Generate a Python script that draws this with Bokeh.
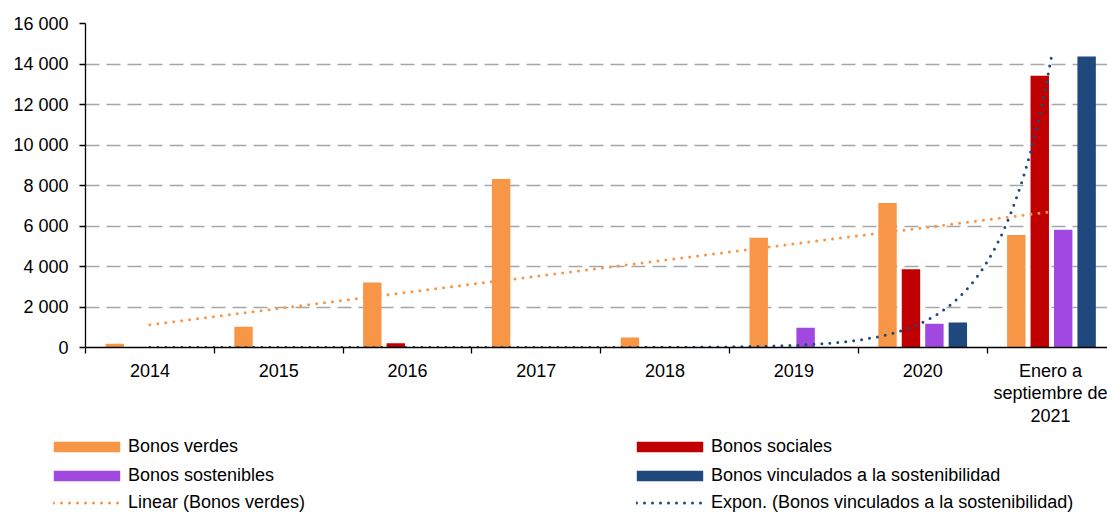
import numpy as np
from bokeh.plotting import figure
from bokeh.layouts import column
from bokeh.models import Range1d, FixedTicker, Legend, LegendItem
from bokeh.embed import file_html
from bokeh.resources import INLINE

# ---------------- data ----------------
categories = ["2014", "2015", "2016", "2017", "2018", "2019", "2020",
              "Enero a\nseptiembre de\n2021"]
bonos_verdes = [180, 1030, 3210, 8320, 500, 5420, 7130, 5560]
bonos_sociales = [0, 0, 210, 0, 0, 0, 3870, 13420]
bonos_sostenibles = [0, 0, 0, 0, 0, 980, 1170, 5810]
bonos_vinculados = [0, 0, 0, 0, 0, 0, 1240, 14370]
y_ticks = [0, 2000, 4000, 6000, 8000, 10000, 12000, 14000, 16000]
y_tick_labels = ["0", "2 000", "4 000", "6 000", "8 000", "10 000",
                 "12 000", "14 000", "16 000"]
series_names = ["Bonos verdes", "Bonos sociales", "Bonos sostenibles",
                "Bonos vinculados a la sostenibilidad"]
trend_names = ["Linear (Bonos verdes)",
               "Expon. (Bonos vinculados a la sostenibilidad)"]

ORANGE = "#F79646"
RED = "#C00000"
PURPLE = "#A048E0"
BLUE = "#1F497D"
FONT = "Liberation Sans"
FS = "18px"

n = len(categories)
idx = np.arange(n)
centers = idx + 0.5
step = 0.182
bw = 0.143

p = figure(width=1107, height=430,
           x_range=Range1d(0, 7.935), y_range=Range1d(0, 16000),
           output_backend="svg", toolbar_location=None,
           min_border_left=85, min_border_right=0,
           min_border_top=23, min_border_bottom=83)
p.outline_line_color = None
p.background_fill_color = "white"

# grid
p.xgrid.visible = False
p.ygrid.ticker = FixedTicker(ticks=y_ticks)
p.ygrid.grid_line_color = "#a6a6a6"
p.ygrid.grid_line_width = 1.6
p.ygrid.grid_line_dash = "14 7"

# bars
p.vbar(x=centers - 1.5 * step, top=bonos_verdes, width=bw,
       fill_color=ORANGE, line_color=None)
p.vbar(x=centers - 0.5 * step, top=bonos_sociales, width=bw,
       fill_color=RED, line_color=None)
p.vbar(x=centers + 0.5 * step, top=bonos_sostenibles, width=bw,
       fill_color=PURPLE, line_color=None)
p.vbar(x=centers + 1.5 * step, top=bonos_vinculados, width=bw,
       fill_color=BLUE, line_color=None)

# trend lines (least squares fits of the data, as in the spreadsheet)
xn = idx + 1.0
xs = np.linspace(1, n, 300)
lin_c = np.polyfit(xn, np.array(bonos_verdes, float), 1)
lin_y = np.polyval(lin_c, xs)
vv = np.array(bonos_vinculados, float)
pos = vv > 0
exp_c = np.polyfit(xn[pos], np.log(vv[pos]), 1)
exp_y = np.exp(np.polyval(exp_c, xs))

p.line(xs - 0.5, lin_y, line_color=ORANGE, line_width=3,
       line_dash="0 8", line_cap="round")
p.line(xs - 0.5, exp_y, line_color=BLUE, line_width=3,
       line_dash="0 8", line_cap="round")

# axes
xa = p.xaxis[0]
xa.ticker = FixedTicker(ticks=list(centers), minor_ticks=list(np.arange(n + 1)))
xa.major_label_overrides = {float(c): lab for c, lab in zip(centers, categories)}
xa.major_tick_out = 0
xa.major_tick_in = 0
xa.minor_tick_out = 6
xa.minor_tick_in = 0
xa.minor_tick_line_color = "black"
xa.minor_tick_line_width = 1.3
xa.axis_line_color = "black"
xa.axis_line_width = 1.3
xa.major_label_standoff = 7
xa.major_label_text_font = FONT
xa.major_label_text_font_size = FS
xa.major_label_text_color = "black"
xa.major_label_text_line_height = 1.13

ya = p.yaxis[0]
ya.ticker = FixedTicker(ticks=y_ticks)
ya.major_label_overrides = {t: lab for t, lab in zip(y_ticks, y_tick_labels)}
ya.major_tick_out = 6
ya.major_tick_in = 0
ya.minor_tick_out = 0
ya.minor_tick_in = 0
ya.major_tick_line_color = "black"
ya.major_tick_line_width = 1.3
ya.axis_line_color = "black"
ya.axis_line_width = 1.3
ya.major_label_standoff = 11
ya.major_label_text_font = FONT
ya.major_label_text_font_size = FS
ya.major_label_text_color = "black"

# ---------------- legend strip ----------------
lg = figure(width=1107, height=82, x_range=Range1d(0, 1), y_range=Range1d(0, 1),
            output_backend="svg", toolbar_location=None,
            x_axis_location=None, y_axis_location=None,
            min_border_left=0, min_border_right=0,
            min_border_top=0, min_border_bottom=0)
lg.frame_align = False
lg.outline_line_color = None
lg.xgrid.visible = False
lg.ygrid.visible = False
colors = [ORANGE, RED, PURPLE, BLUE]
# off-range proxies that only serve as legend swatches
swatches = [lg.vbar(x=[5], top=[1], width=0.1, fill_color=c, line_color=None)
            for c in colors]
trend_sw = [lg.line(x=[5, 6], y=[0, 0], line_color=c, line_width=3,
                    line_dash="0 8", line_cap="round")
            for c in (ORANGE, BLUE)]


def make_legend(items, loc, gw=83, gh=13, standoff=0):
    return Legend(items=items, location=loc, orientation="vertical",
                  padding=0, margin=0, spacing=8,
                  glyph_width=gw, glyph_height=gh, label_standoff=standoff,
                  label_height=21, label_text_font=FONT,
                  label_text_font_size=FS, label_text_color="black",
                  border_line_alpha=0, background_fill_alpha=0)


leg1 = make_legend([LegendItem(label=series_names[0], renderers=[swatches[0]]),
                    LegendItem(label=series_names[2], renderers=[swatches[2]])],
                   (45, 26))
leg2 = make_legend([LegendItem(label=series_names[1], renderers=[swatches[1]]),
                    LegendItem(label=series_names[3], renderers=[swatches[3]])],
                   (628, 26))
leg3 = make_legend([LegendItem(label=trend_names[0], renderers=[trend_sw[0]])],
                   (53, -1), gw=68, gh=13, standoff=7)
leg4 = make_legend([LegendItem(label=trend_names[1], renderers=[trend_sw[1]])],
                   (636, -1), gw=68, gh=13, standoff=7)
for l in (leg1, leg2, leg3, leg4):
    lg.add_layout(l)

layout = column(p, lg, spacing=0)
open("out.html", "w").write(file_html(layout, INLINE))
